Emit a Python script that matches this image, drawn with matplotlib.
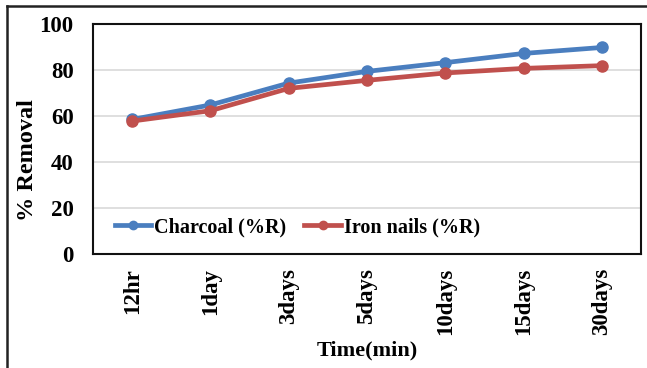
import matplotlib.pyplot as plt
from matplotlib.lines import Line2D

# removal efficiency over contact time
times = ["12hr", "1day", "3days", "5days", "10days", "15days", "30days"]
charcoal = [58.5, 64.8, 74.3, 79.4, 83.2, 87.2, 89.8]
iron_nails = [57.8, 62.3, 72.0, 75.5, 78.7, 80.7, 81.9]

plt.rcParams['font.family'] = ['Liberation Serif', 'DejaVu Serif']
plt.rcParams['font.weight'] = 'bold'

fig = plt.figure(figsize=(6.47, 3.68), dpi=100)
ax = fig.add_axes([93 / 647, 1 - 254 / 368, (641 - 93) / 647, (254 - 24) / 368])

x = range(len(times))
ax.plot(x, charcoal, color="#4a7ebf", lw=3.4, marker="o", ms=8, label="Charcoal (%R)")
ax.plot(x, iron_nails, color="#c0504d", lw=3.4, marker="o", ms=8, label="Iron nails (%R)")

ax.set_xlim(-0.5, len(times) - 0.5)
ax.set_ylim(0, 100)
ax.set_yticks([0, 20, 40, 60, 80, 100])
ax.set_xticks(list(x))
ax.set_xticklabels(times, rotation=90, fontsize=16.5, fontweight="bold")
ax.tick_params(axis="y", labelsize=16.5, length=0, pad=14)
ax.tick_params(axis="x", length=0, pad=10)
for t in ax.get_yticklabels():
    t.set_fontweight("bold")
ax.yaxis.grid(True, color="#d9d9d9", lw=1.2)
ax.set_axisbelow(True)
for s in ax.spines.values():
    s.set_linewidth(1.5)
    s.set_color("#111111")

ax.set_ylabel("% Removal", fontsize=17.5, fontweight="bold")
ax.yaxis.set_label_coords(-0.1, 0.41)
ax.set_xlabel("Time(min)", fontsize=16, fontweight="bold", labelpad=4)

leg = ax.legend(loc="center left", bbox_to_anchor=(0.04, 0.117), ncol=2, frameon=False,
                prop={"size": 14.5, "weight": "bold"}, handlelength=1.8, borderpad=0,
                borderaxespad=0, handletextpad=0.15, columnspacing=0.9, markerscale=0.75)

# outer frame around the figure
fig.add_artist(Line2D([7 / 647, 7 / 647], [0, 1 - 6 / 368], color="#222222", lw=1.8))
fig.add_artist(Line2D([7 / 647, 1], [1 - 6 / 368, 1 - 6 / 368], color="#222222", lw=1.8))

fig.savefig("out.png", dpi=100)
